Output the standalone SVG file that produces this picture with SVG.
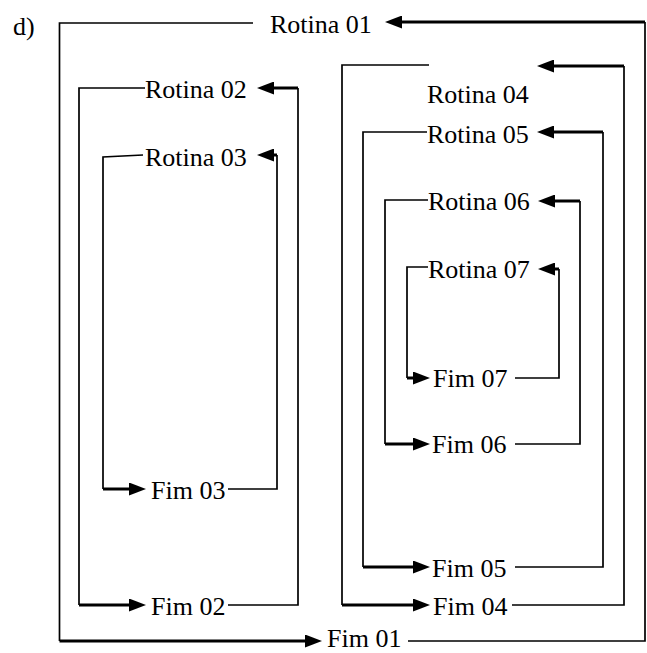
<svg xmlns="http://www.w3.org/2000/svg" width="647" height="653" viewBox="0 0 647 653">
<style>
text{font-family:"Liberation Serif","Times New Roman",serif;font-size:26px;fill:#000}
.thin{stroke:#000;stroke-width:1.7;fill:none}
.thick{stroke:#000;stroke-width:3;fill:none;marker-end:url(#ah)}
</style>
<defs>
<marker id="ah" viewBox="0 0 17 13" refX="0" refY="6.5" markerWidth="17" markerHeight="13" markerUnits="userSpaceOnUse" orient="auto">
<path d="M0,0 L17,6.5 L0,13 z" fill="#000"/>
</marker>
</defs>
<rect width="647" height="653" fill="#fff"/>
<text x="13" y="35">d)</text>
<g id="connectors">
<path class="thin" d="M253,23 H59.5 V641"/>
<path class="thick" d="M59.5,641 H305"/>
<path class="thin" d="M408,641 H645 V22"/>
<path class="thick" d="M645,22 H402"/>
<path class="thin" d="M145,88 H79 V605"/>
<path class="thick" d="M79,605 H129"/>
<path class="thin" d="M228,605 H298 V88"/>
<path class="thick" d="M298,88 H274"/>
<path class="thin" d="M143,155 L103,157 V489"/>
<path class="thick" d="M103,489 H129"/>
<path class="thin" d="M228,489 H277 V155"/>
<path class="thick" d="M277,155 H274"/>
<path class="thin" d="M429,65 H342 V605"/>
<path class="thick" d="M342,605 H413"/>
<path class="thin" d="M512,605 H624 V66"/>
<path class="thick" d="M624,66 H554"/>
<path class="thin" d="M427,132 H363 V567"/>
<path class="thick" d="M363,567 H413"/>
<path class="thin" d="M515,567 H603 V132"/>
<path class="thick" d="M603,132 H554"/>
<path class="thin" d="M428,200 H385 V444"/>
<path class="thick" d="M385,444 H413"/>
<path class="thin" d="M515,444 H580 V201"/>
<path class="thick" d="M580,201 H555"/>
<path class="thin" d="M428,267 H407 V378"/>
<path class="thick" d="M407,378 H413"/>
<path class="thin" d="M515,378 H559 V269"/>
<path class="thick" d="M559,269 H555"/>
</g>
<g id="rotina01"><text x="270" y="33">Rotina 01</text></g>
<g id="fim01"><text x="327" y="647">Fim 01</text></g>
<g id="rotina02"><text x="145" y="98">Rotina 02</text></g>
<g id="fim02"><text x="151" y="615">Fim 02</text></g>
<g id="rotina03"><text x="145" y="166">Rotina 03</text></g>
<g id="fim03"><text x="151" y="499">Fim 03</text></g>
<g id="rotina04"><text x="427" y="103">Rotina 04</text></g>
<g id="fim04"><text x="433" y="615">Fim 04</text></g>
<g id="rotina05"><text x="427" y="143">Rotina 05</text></g>
<g id="fim05"><text x="432" y="577">Fim 05</text></g>
<g id="rotina06"><text x="428" y="210">Rotina 06</text></g>
<g id="fim06"><text x="432" y="453">Fim 06</text></g>
<g id="rotina07"><text x="428" y="278">Rotina 07</text></g>
<g id="fim07"><text x="433" y="387">Fim 07</text></g>
</svg>
